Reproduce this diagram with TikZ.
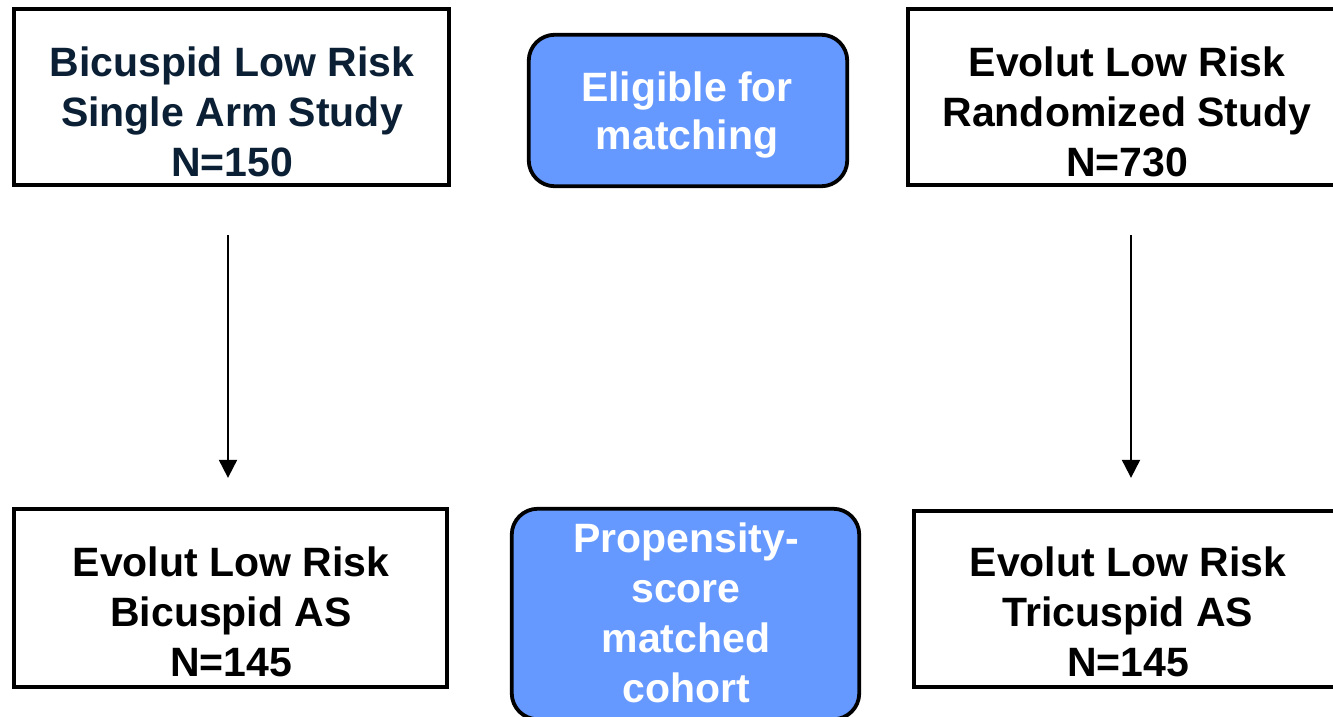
\documentclass[tikz,border=0pt]{standalone}
\usepackage{fontspec}
\setmainfont{Liberation Sans}
\usetikzlibrary{arrows.meta}
\definecolor{navy}{HTML}{0B2035}
\definecolor{boxblue}{HTML}{6699FF}
\begin{document}
\begin{tikzpicture}[x=1pt,y=-1pt,
  box/.style={draw=black, line width=3.8pt, fill=white, inner sep=0pt},
  rbox/.style={draw=black, line width=3.8pt, fill=boxblue, rounded corners=26pt, inner sep=0pt},
  lbl/.style={font=\fontsize{41}{50}\selectfont\bfseries, align=center, inner sep=0pt},
  wlbl/.style={lbl, text=white},
  flow/.style={line width=2pt, -{Triangle[width=18pt,length=18pt]}}]
\clip (0,0) rectangle (1333,716);
\fill[white] (0,0) rectangle (1333,716);
% boxes
\node[box, minimum width=435.5pt, minimum height=176.5pt] (b1) at (231.5,97) {};
\node[rbox, minimum width=318.5pt, minimum height=151.5pt] (b2) at (688,110.5) {};
\node[box, minimum width=440.5pt, minimum height=176.5pt] (b3) at (1128,97) {};
\node[box, minimum width=433.5pt, minimum height=178.5pt] (b4) at (230.5,598) {};
\node[rbox, minimum width=347.5pt, minimum height=210.5pt] (b5) at (685.5,614) {};
\node[box, minimum width=434.5pt, minimum height=176.5pt] (b6) at (1131,599) {};
% texts
\node[lbl, text=navy] (t1) at (232,112) {Bicuspid Low Risk\\Single Arm Study\\N=150};
\node[wlbl, font=\fontsize{41}{48}\selectfont\bfseries] (t2) at (687,115) {Eligible for\\matching};
\node[lbl] (t3) at (1127,112) {Evolut Low Risk\\Randomized Study\\N=730};
\node[lbl] (t4) at (231,612) {Evolut Low Risk\\Bicuspid AS\\N=145};
\node[wlbl] (t5) at (686,613) {Propensity-\\score\\matched\\cohort};
\node[lbl] (t6) at (1128,612) {Evolut Low Risk\\Tricuspid AS\\N=145};
% arrows
\draw[flow, shorten <=48pt, shorten >=29pt] ([xshift=-3.5pt]b1.south) -- ([xshift=-3.5pt]b1.south |- b4.north);
\draw[flow, shorten <=48pt, shorten >=31pt] ([xshift=3pt]b3.south) -- ([xshift=3pt]b3.south |- b6.north);
\end{tikzpicture}
\end{document}
